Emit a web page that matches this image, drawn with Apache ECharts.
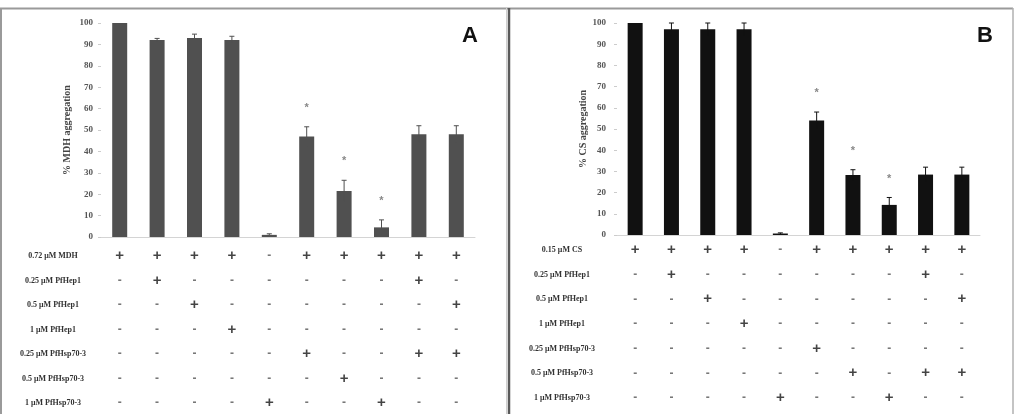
<!DOCTYPE html>
<html>
<head>
<meta charset="utf-8">
<script src="https://cdn.jsdelivr.net/npm/echarts@6/dist/echarts.min.js"></script>
<style>
html,body{margin:0;padding:0;background:#fff;}
#chart{width:1021px;height:414px;}
</style>
</head>
<body>
<div id="chart"></div>
<script>
// ---- data ----
const lanes = ['1','2','3','4','5','6','7','8','9','10'];

const valuesA = [100, 92, 93, 92, 1, 47, 21.5, 4.5, 48, 48];
const errorsA = [0, 0.8, 1.8, 1.8, 0.5, 4.5, 5, 3.5, 4, 4];
const sigA    = [0, 0, 0, 0, 0, 1, 1, 1, 0, 0];
const rowsA = ['0.72 μM MDH','0.25 μM PfHep1','0.5 μM PfHep1','1 μM PfHep1','0.25 μM PfHsp70-3','0.5 μM PfHsp70-3','1 μM PfHsp70-3'];
const signsA = [
  '++++-+++++',
  '-+------+-',
  '--+------+',
  '---+------',
  '-----+--++',
  '------+---',
  '----+--+--'
];

const valuesB = [100, 97, 97, 97, 0.7, 54, 28.3, 14.2, 28.5, 28.5];
const errorsB = [0, 3, 3, 3, 0.3, 4, 2.5, 3.5, 3.5, 3.5];
const sigB    = [0, 0, 0, 0, 0, 1, 1, 1, 0, 0];
const rowsB = ['0.15 μM CS','0.25 μM PfHep1','0.5 μM PfHep1','1 μM PfHep1','0.25 μM PfHsp70-3','0.5 μM PfHsp70-3','1 μM PfHsp70-3'];
const signsB = [
  '++++-+++++',
  '-+------+-',
  '--+------+',
  '---+------',
  '-----+----',
  '------+-++',
  '----+--+--'
];

const titleA = '% MDH aggregation';
const titleB = '% CS aggregation';

// ---- build ----
const serif = '"Liberation Serif","DejaVu Serif",serif';
const sans = '"Liberation Sans","DejaVu Sans",sans-serif';

function tableData(signs){
  const out = [];
  signs.forEach((s, r) => {
    for (let c = 0; c < s.length; c++) out.push([c, r, s[c]]);
  });
  return out;
}

function errData(vals, errs, sig){
  return vals.map((v,i)=>[i, v, errs[i], sig[i]]);
}

function errRender(color){
  return function(params, api){
    const x = api.value(0), v = api.value(1), e = api.value(2), s = api.value(3);
    const top = api.coord([x, v + e]);
    const bot = api.coord([x, Math.max(0, v - e)]);
    const children = [];
    if (e > 0) {
      children.push({type:'line', shape:{x1:top[0], y1:top[1], x2:bot[0], y2:bot[1]}, style:{stroke:color, lineWidth:1}});
      children.push({type:'line', shape:{x1:top[0]-2.5, y1:top[1], x2:top[0]+2.5, y2:top[1]}, style:{stroke:color, lineWidth:1}});
    }
    if (s) {
      children.push({type:'text', x: top[0], y: top[1]-19, style:{text:'*', fill:'#888', font:'bold 11px ' + sans, align:'center', verticalAlign:'middle'}});
    }
    return {type:'group', children};
  };
}

const grids = [
  {left:101, top:23, width:374, height:214},
  {left:617, top:23, width:363, height:212},
  {left:101, top:256, width:374, height:147},
  {left:617, top:250, width:363, height:148}
];

function barYAxis(gridIndex, name, gap, margin){
  return {
    type:'value', gridIndex, min:0, max:100, interval:10,
    name, nameLocation:'middle', nameGap:gap,
    nameTextStyle:{fontFamily:serif, fontWeight:'bold', fontSize:10, color:'#444'},
    axisLine:{show:false},
    axisTick:{show:true, length:3, lineStyle:{color:'#ccc'}},
    axisLabel:{fontFamily:serif, fontWeight:'bold', fontSize:9, color:'#555', margin},
    splitLine:{show:false}
  };
}
function barXAxis(gridIndex){
  return {
    type:'category', gridIndex, data:lanes,
    axisLine:{show:true, lineStyle:{color:'#d4d4d4', width:1}},
    axisTick:{show:false}, axisLabel:{show:false}, splitLine:{show:false}
  };
}
function tabXAxis(gridIndex){
  return {type:'category', gridIndex, data:lanes, show:false};
}
function tabYAxis(gridIndex, rows, margin){
  return {
    type:'category', gridIndex, data:rows, inverse:true, boundaryGap:false,
    axisLine:{show:false}, axisTick:{show:false}, splitLine:{show:false},
    axisLabel:{fontFamily:serif, fontWeight:'bold', fontSize:8, color:'#333', margin, align:'center'}
  };
}

function signLabelSeries(idx, signs){
  const data = tableData(signs).map(d=>({value:d,
    label: d[2]==='+'
      ? {fontSize:15, color:'#151515', fontFamily:sans, fontWeight:'bold'}
      : {fontSize:12, color:'#555', fontFamily:sans, fontWeight:'bold'}}));
  return {
    type:'scatter', xAxisIndex:idx, yAxisIndex:idx, data, symbolSize:0, silent:true,
    label:{show:true, position:'inside', formatter:(p)=>p.value[2]}
  };
}

const option = {
  animation:false,
  backgroundColor:'#fff',
  grid: grids,
  xAxis:[barXAxis(0), barXAxis(1), tabXAxis(2), tabXAxis(3)],
  yAxis:[barYAxis(0, titleA, 29, 8), barYAxis(1, titleB, 24, 11),
         tabYAxis(2, rowsA, 48), tabYAxis(3, rowsB, 55)],
  series:[
    {type:'bar', xAxisIndex:0, yAxisIndex:0, data:valuesA, barWidth:15, itemStyle:{color:'#505050'}},
    {type:'custom', xAxisIndex:0, yAxisIndex:0, data:errData(valuesA, errorsA, sigA), renderItem:errRender('#505050'), z:5},
    {type:'bar', xAxisIndex:1, yAxisIndex:1, data:valuesB, barWidth:15, itemStyle:{color:'#111'}},
    {type:'custom', xAxisIndex:1, yAxisIndex:1, data:errData(valuesB, errorsB, sigB), renderItem:errRender('#111'), z:5},
    signLabelSeries(2, signsA),
    signLabelSeries(3, signsB)
  ],
  graphic:[
    {type:'line', shape:{x1:0, y1:8.5, x2:1013, y2:8.5}, style:{stroke:'#9a9a9a', lineWidth:2}},
    {type:'line', shape:{x1:1, y1:8, x2:1, y2:414}, style:{stroke:'#9a9a9a', lineWidth:2}},
    {type:'line', shape:{x1:506.5, y1:8, x2:506.5, y2:414}, style:{stroke:'#cfcfcf', lineWidth:1}},
    {type:'line', shape:{x1:509, y1:8, x2:509, y2:414}, style:{stroke:'#5a5a5a', lineWidth:2.5}},
    {type:'line', shape:{x1:1013, y1:8, x2:1013, y2:414}, style:{stroke:'#b0b0b0', lineWidth:1.5}},
    {type:'text', x:470, y:36, style:{text:'A', font:'bold 22px ' + sans, fill:'#111', align:'center', verticalAlign:'middle'}},
    {type:'text', x:985, y:36, style:{text:'B', font:'bold 22px ' + sans, fill:'#111', align:'center', verticalAlign:'middle'}}
  ]
};

const chart = echarts.init(document.getElementById('chart'), null, {renderer:'canvas'});
chart.setOption(option);
</script>
</body>
</html>
